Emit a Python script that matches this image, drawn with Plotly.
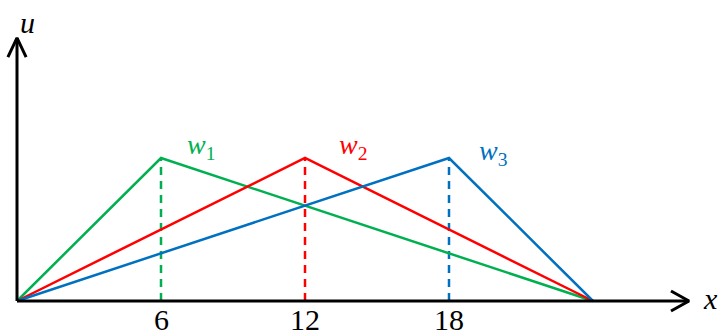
import plotly.graph_objects as go

# Data
nodes = [0, 24]
peaks = [6, 12, 18]
peak_value = 1.0
series_names = ["w<sub>1</sub>", "w<sub>2</sub>", "w<sub>3</sub>"]
colors = ["#00B050", "#FF0000", "#0070C0"]
tick_vals = [6, 12, 18]
tick_text = ["6", "12", "18"]
x_axis_end = 28.0
y_axis_end = 1.84

fig = go.Figure()

# dashed verticals
for p, c in zip(peaks, colors):
    fig.add_trace(go.Scatter(x=[p, p], y=[0, peak_value], mode="lines",
                             line=dict(color=c, width=2.5, dash="8px,6px"),
                             hoverinfo="skip", showlegend=False))

# triangles
for p, c in zip(peaks, colors):
    fig.add_trace(go.Scatter(x=[nodes[0], p, nodes[1]], y=[0, peak_value, 0], mode="lines",
                             line=dict(color=c, width=2.5), hoverinfo="skip", showlegend=False))

# axes
fig.add_trace(go.Scatter(x=[0, x_axis_end], y=[0, 0], mode="lines",
                         line=dict(color="black", width=3), hoverinfo="skip", showlegend=False))
fig.add_trace(go.Scatter(x=[0, 0], y=[0, y_axis_end], mode="lines",
                         line=dict(color="black", width=3), hoverinfo="skip", showlegend=False))
# arrow heads (chevrons)
fig.add_trace(go.Scatter(x=[x_axis_end - 0.75, x_axis_end, x_axis_end - 0.75],
                         y=[0.07, 0, -0.07], mode="lines",
                         line=dict(color="black", width=3), hoverinfo="skip", showlegend=False))
fig.add_trace(go.Scatter(x=[-0.38, 0, 0.38],
                         y=[y_axis_end - 0.135, y_axis_end, y_axis_end - 0.135], mode="lines",
                         line=dict(color="black", width=3), hoverinfo="skip", showlegend=False))

font_family = "Liberation Serif"
ann = []
for v, t in zip(tick_vals, tick_text):
    ann.append(dict(x=v, y=0, text=t, showarrow=False, yshift=-18, xanchor="center", yanchor="middle",
                    height=28, valign="middle",
                    font=dict(family=font_family, size=30, color="black")))
label_offsets = [(1.65, 0.08), (2.0, 0.08), (1.85, 0.04)]
for p, name, c, (dx, dy) in zip(peaks, series_names, colors, label_offsets):
    parts = name.split("<sub>")
    txt = "<i>" + parts[0] + "</i><sub>" + parts[1]
    ann.append(dict(x=p + dx, y=peak_value + dy, text=txt, showarrow=False, xanchor="center", yanchor="middle",
                    font=dict(family=font_family, size=28, color=c)))
ann.append(dict(x=0.45, y=1.95, text="<i>u</i>", showarrow=False, xanchor="center", yanchor="middle",
                font=dict(family=font_family, size=30, color="black")))
ann.append(dict(x=28.9, y=0.02, text="<i>x</i>", showarrow=False, xanchor="center", yanchor="middle",
                font=dict(family=font_family, size=30, color="black")))

fig.update_layout(
    width=718, height=333,
    margin=dict(l=0, r=0, t=0, b=0),
    paper_bgcolor="white", plot_bgcolor="white",
    xaxis=dict(range=[-17 / 24, 701 / 24], visible=False, fixedrange=True),
    yaxis=dict(range=[-32 / 143, 301 / 143], visible=False, fixedrange=True),
    annotations=ann,
    showlegend=False,
)

fig.write_html("out.html", config={"displayModeBar": False},
               post_script="document.body.style.margin='0';document.body.style.overflow='hidden';")
